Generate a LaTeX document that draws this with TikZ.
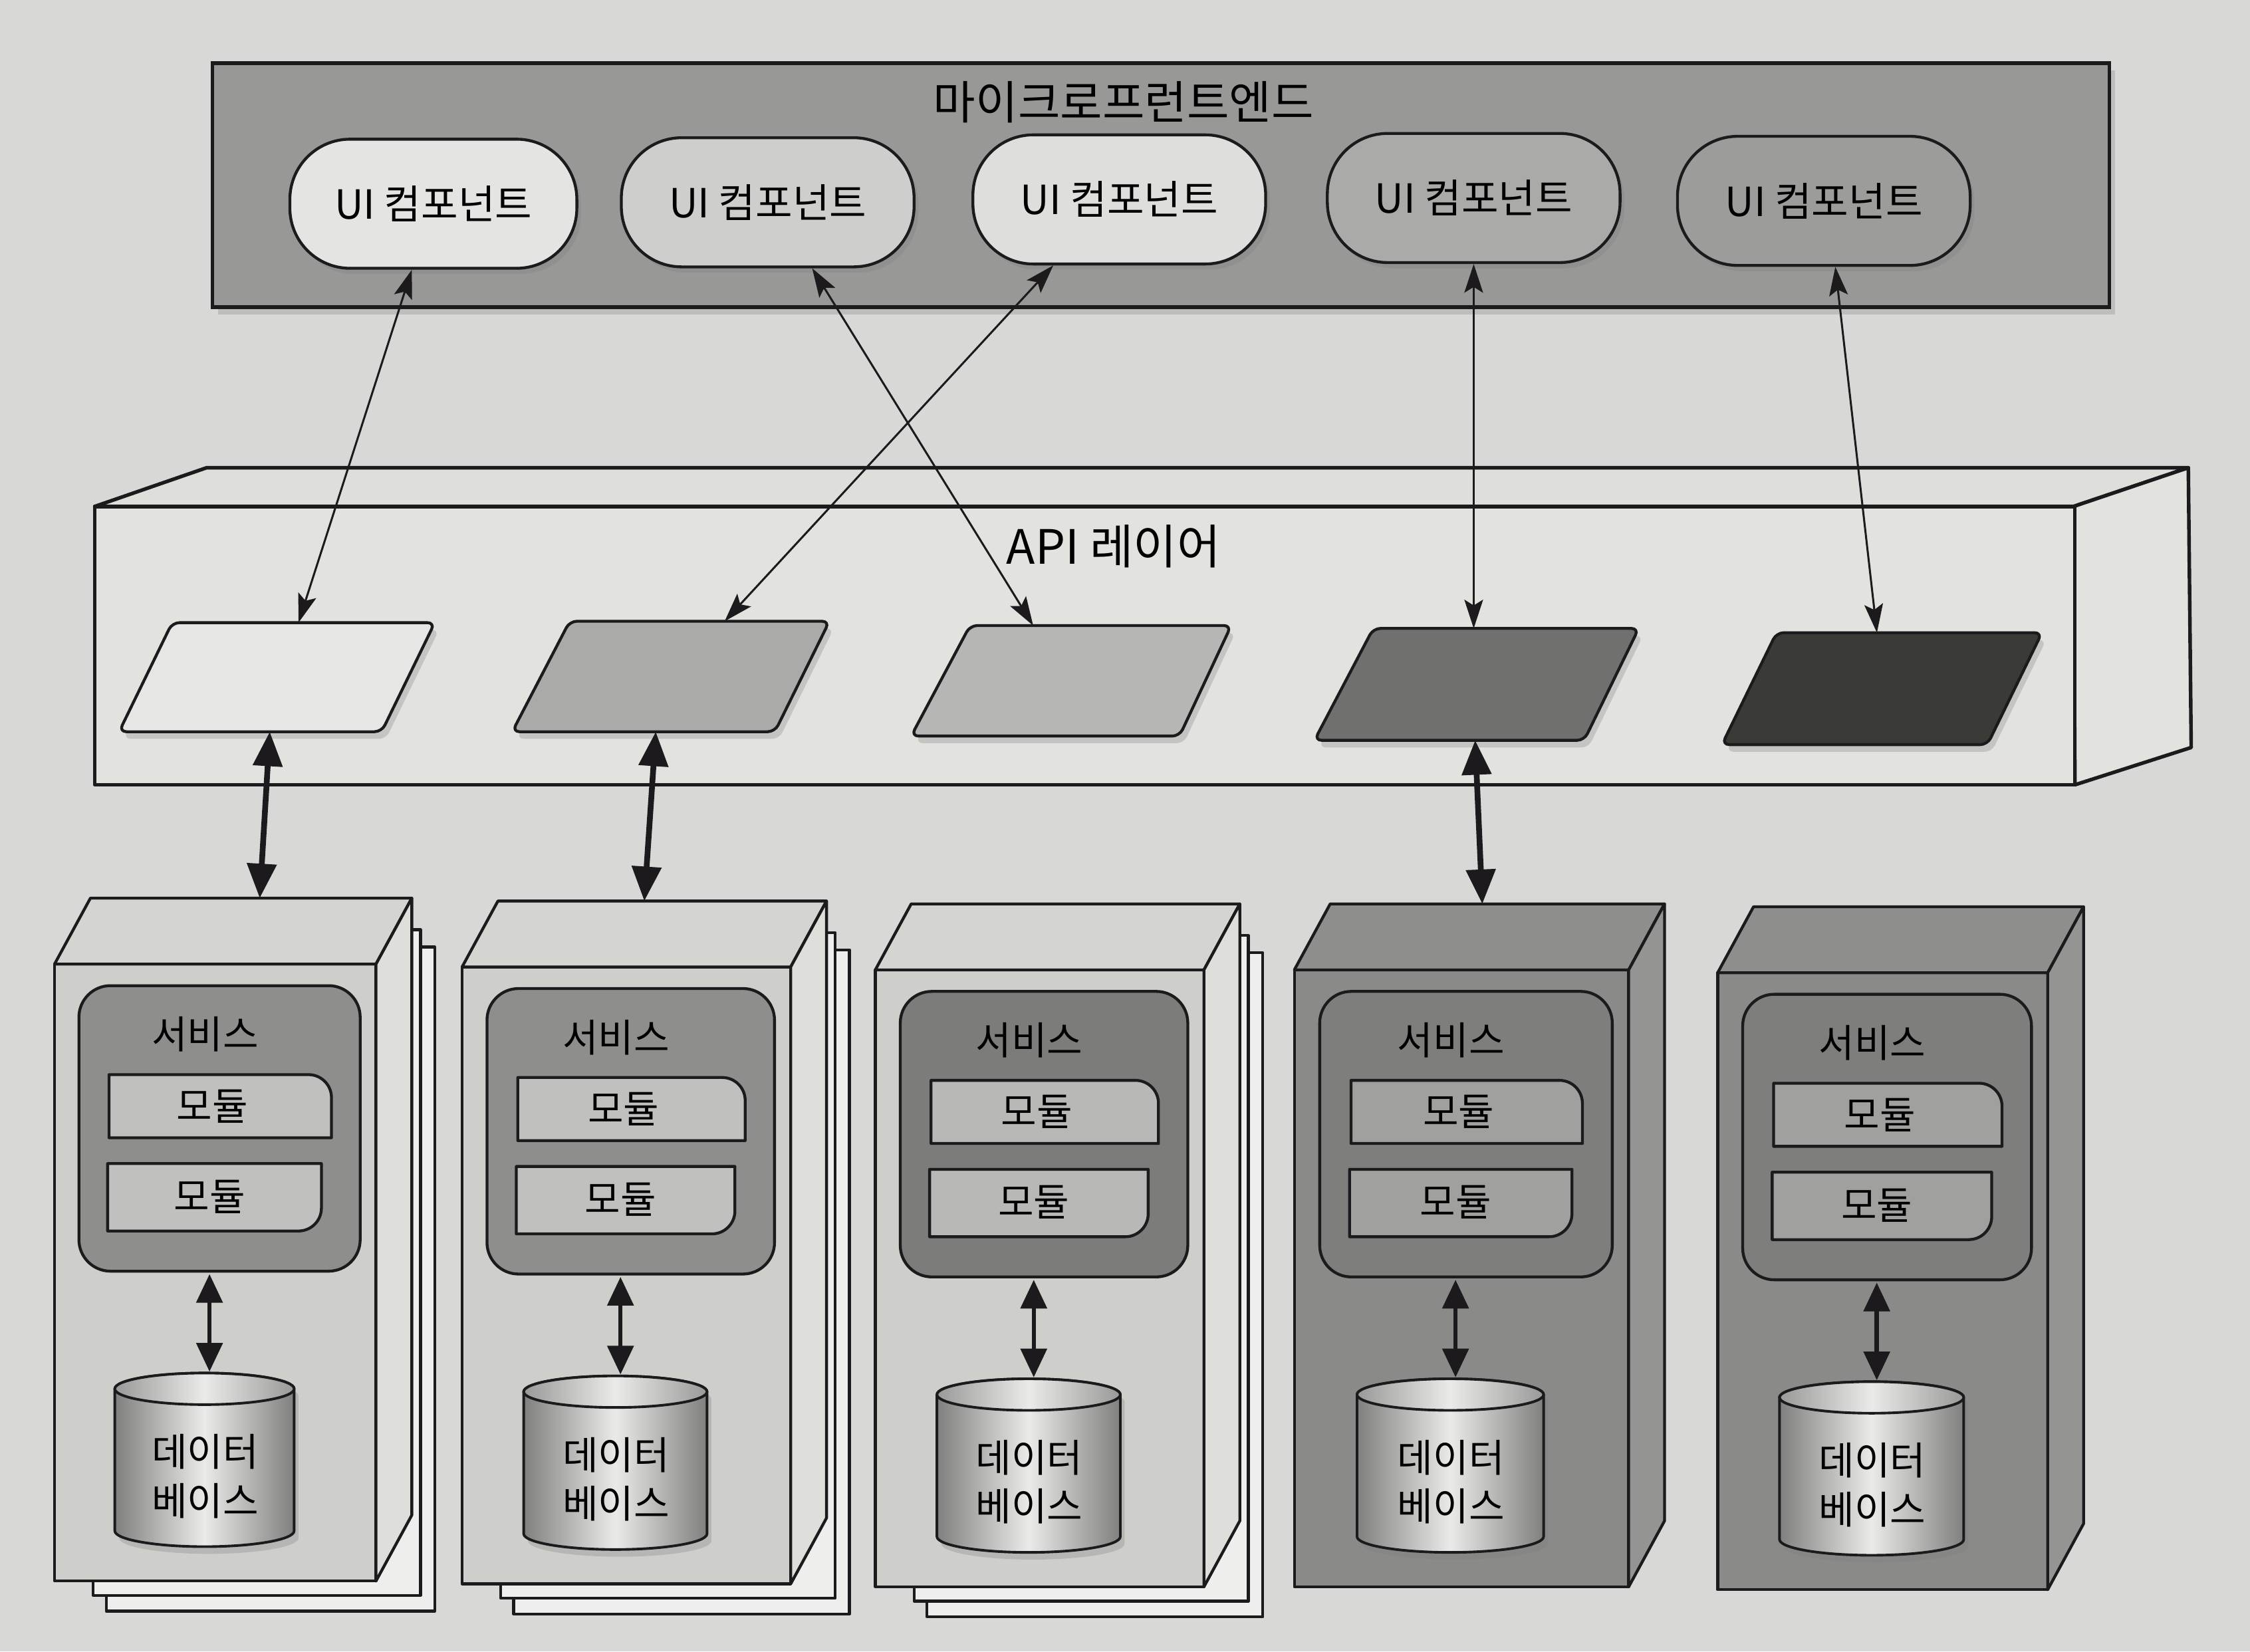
\documentclass[tikz,border=0pt]{standalone}
\usepackage{fontspec}
\setmainfont{Noto Sans CJK KR}
\usetikzlibrary{arrows.meta,shadows,calc}

\definecolor{paper}{RGB}{216,216,214}
\definecolor{mfefill}{RGB}{152,152,150}
\definecolor{uiA}{RGB}{228,228,226}
\definecolor{uiB}{RGB}{206,206,204}
\definecolor{uiC}{RGB}{222,222,220}
\definecolor{uiD}{RGB}{170,170,168}
\definecolor{uiE}{RGB}{156,156,154}
\definecolor{apiface}{RGB}{226,226,223}
\definecolor{apitop}{RGB}{222,222,219}
\definecolor{pA}{RGB}{230,230,228}
\definecolor{pB}{RGB}{170,170,168}
\definecolor{pC}{RGB}{182,182,180}
\definecolor{pD}{RGB}{112,112,110}
\definecolor{pE}{RGB}{58,58,55}
\definecolor{lfront}{RGB}{206,206,203}
\definecolor{ltop}{RGB}{212,212,209}
\definecolor{lside}{RGB}{222,222,219}
\definecolor{dfront}{RGB}{138,138,136}
\definecolor{dtop}{RGB}{142,142,140}
\definecolor{dside}{RGB}{148,148,146}
\definecolor{svcA}{RGB}{142,142,140}
\definecolor{svcC}{RGB}{124,124,122}
\definecolor{svcD}{RGB}{126,126,124}
\definecolor{modL}{RGB}{192,192,190}
\definecolor{modC}{RGB}{184,184,182}
\definecolor{modD}{RGB}{160,160,158}
\definecolor{pagefill}{RGB}{238,238,236}
\definecolor{dbdark}{RGB}{128,128,126}
\definecolor{dblight}{RGB}{234,234,232}
\definecolor{inkc}{RGB}{28,26,28}

\newcommand{\fTitle}{\fontsize{32}{34}\selectfont}
\newcommand{\fApi}{\fontsize{33}{35}\selectfont}
\newcommand{\fUI}{\fontsize{28}{30}\selectfont}
\newcommand{\fSvc}{\fontsize{27}{29}\selectfont}
\newcommand{\fDB}{\fontsize{27}{34}\selectfont}

\tikzset{
  ln/.style={draw=inkc, line width=2pt, line join=round},
  uicomp/.style={ln, rounded corners=42pt, minimum width=204pt, minimum height=90pt, inner sep=0pt, font=\fUI,
    drop shadow={opacity=0.3, shadow xshift=3pt, shadow yshift=-4pt}},
  parabox/.style={ln, rounded corners=5pt, drop shadow={opacity=0.3, shadow xshift=3pt, shadow yshift=-5pt}},
  thinarr/.style={draw=inkc, line width=1.4pt, arrows={Stealth[length=20pt,width=13pt,inset=4pt]-Stealth[length=20pt,width=13pt,inset=4pt]}},
  boldarr/.style={draw=inkc, line width=4pt, arrows={Triangle[length=24pt,width=20pt]-Triangle[length=24pt,width=20pt]}},
  dbarr/.style={draw=inkc, line width=3pt, arrows={Triangle[length=20pt,width=18pt]-Triangle[length=20pt,width=18pt]}},
}

\newcommand{\mspages}[3]{%
  \draw[ln, fill=pagefill] ({#1+36},{#2-12}) rectangle ({#1+#3+41},{#2+451});
  \draw[ln, fill=pagefill] ({#1+27},{#2-24}) rectangle ({#1+#3+31},{#2+440});
}

\newcommand{\msbox}[9]{%
  \pgfmathsetmacro{\bxS}{#4/224}
  \pgfmathsetmacro{\bxR}{#2+#4}
  \draw[ln, fill=#5] (#2,#3) rectangle (\bxR,{#3+430});
  \draw[ln, fill=#6] (#2,#3) -- ({#2+25},{#3-46}) -- ({\bxR+25},{#3-46}) -- (\bxR,#3) -- cycle;
  \draw[ln, fill=#7] (\bxR,#3) -- ({\bxR+25},{#3-46}) -- ({\bxR+25},{#3+384}) -- (\bxR,{#3+430}) -- cycle;
  % service
  \draw[ln, fill=#8, rounded corners=22pt] ({#2+17*\bxS},{#3+15}) rectangle ({#2+213*\bxS},{#3+214});
  \node[font=\fSvc] (#1svc) at ({#2+105*\bxS},{#3+49}) {서비스};
  % modules
  \draw[ln, fill=#9] ({#2+38*\bxS},{#3+77}) -- ({#2+193*\bxS-16},{#3+77}) arc[start angle=-90,end angle=0,radius=16] -- ({#2+193*\bxS},{#3+121}) -- ({#2+38*\bxS},{#3+121}) -- cycle;
  \node[font=\fSvc] (#1mA) at ({#2+110*\bxS},{#3+99}) {모듈};
  \draw[ln, fill=#9] ({#2+37*\bxS},{#3+139}) -- ({#2+186*\bxS},{#3+139}) -- ({#2+186*\bxS},{#3+170}) arc[start angle=0,end angle=90,radius=16] -- ({#2+37*\bxS},{#3+186}) -- cycle;
  \node[font=\fSvc] (#1mB) at ({#2+108*\bxS},{#3+162}) {모듈};
  % database
  \pgfmathsetmacro{\dbL}{#2+42*\bxS}
  \pgfmathsetmacro{\dbRr}{#2+167*\bxS}
  \pgfmathsetmacro{\dbRx}{62.5*\bxS}
  \path[draw=inkc, line width=1.8pt, left color=dbdark, right color=dbdark, middle color=dblight,
        drop shadow={opacity=0.3, shadow xshift=3pt, shadow yshift=-5pt}]
    (\dbL,{#3+296}) -- (\dbL,{#3+395}) arc[start angle=180,end angle=0,x radius=\dbRx,y radius=11]
    -- (\dbRr,{#3+296}) arc[start angle=0,end angle=-180,x radius=\dbRx,y radius=11] -- cycle;
  \path[draw=inkc, line width=1.8pt, left color=dbdark!80!white, right color=dbdark!80!white, middle color=dblight]
    ({#2+104.5*\bxS},{#3+296}) ellipse [x radius=\dbRx, y radius=11];
  \node[font=\fDB, align=center, inner sep=0pt] (#1db) at ({#2+105*\bxS},{#3+357}) {데이터\\베이스};
  \coordinate (#1sb) at ({#2+108*\bxS},{#3+216});
  \coordinate (#1dt) at ({#2+108*\bxS},{#3+284});
  \draw[dbarr] (#1sb) -- (#1dt);
}

\begin{document}
\begin{tikzpicture}[x=1pt,y=-1pt]
\useasboundingbox (0,0) rectangle (1568,1151);
\fill[paper] (0,0) rectangle (1568,1151);

% ---------- micro frontend frame ----------
\node[draw=inkc, line width=2.5pt, fill=mfefill, minimum width=1322pt, minimum height=170pt, inner sep=0pt,
      drop shadow={opacity=0.3, shadow xshift=4pt, shadow yshift=-5pt}] (mfe) at (809,129) {};
\node[font=\fTitle] (mfet) at (783,71) {마이크로프런트엔드};

\node[uicomp, fill=uiA, minimum width=200pt] (ui1) at (302,142) {UI 컴포넌트};
\node[uicomp, fill=uiB] (ui2) at (535,141) {UI 컴포넌트};
\node[uicomp, fill=uiC] (ui3) at (780,139) {UI 컴포넌트};
\node[uicomp, fill=uiD] (ui4) at (1027,138) {UI 컴포넌트};
\node[uicomp, fill=uiE] (ui5) at (1271,140) {UI 컴포넌트};

% ---------- API layer ----------
\draw[ln, line width=2.5pt, fill=apitop] (66,353) -- (144,326) -- (1525,326) -- (1445,353) -- cycle;
\draw[ln, line width=2.5pt, fill=apiface] (1445,353) -- (1525,326) -- (1527,521) -- (1446,547) -- cycle;
\draw[ln, line width=2.5pt, fill=apiface] (66,353) rectangle (1446,547);
\node[font=\fApi] (apit) at (776,381) {API 레이어};

\draw[parabox, fill=pA] (120,434) -- (303,434) -- (266,510) -- (83,510) -- cycle;
\draw[parabox, fill=pB] (397,433) -- (578,433) -- (540,510) -- (357,510) -- cycle;
\draw[parabox, fill=pC] (676,436) -- (858,436) -- (822,513) -- (635,513) -- cycle;
\draw[parabox, fill=pD] (957,438) -- (1142,438) -- (1104,516) -- (916,516) -- cycle;
\draw[parabox, fill=pE] (1238,441) -- (1423,441) -- (1385,519) -- (1200,519) -- cycle;

\coordinate (p1t) at (208,434); \coordinate (p1b) at (188,510);
\coordinate (p2t) at (505,433); \coordinate (p2b) at (457,510);
\coordinate (p3t) at (720,436);
\coordinate (p4t) at (1027,438); \coordinate (p4b) at (1028,516);
\coordinate (p5t) at (1308,441);

% ---------- service boxes ----------
\mspages{38}{672}{224}
\msbox{sA}{38}{672}{224}{lfront}{ltop}{lside}{svcA}{modL}
\mspages{322}{674}{229}
\msbox{sB}{322}{674}{229}{lfront}{ltop}{lside}{svcA}{modL}
\mspages{610}{676}{229}
\msbox{sC}{610}{676}{229}{lfront}{ltop}{lside}{svcC}{modC}
\msbox{sD}{902}{676}{233}{dfront}{dtop}{dside}{svcD}{modD}
\msbox{sE}{1197}{678}{230}{dfront}{dtop}{dside}{svcD}{modD}

\coordinate (b1t) at (181,626);
\coordinate (b2t) at (449,628);
\coordinate (b4t) at (1033,630);

% ---------- connectors ----------
\coordinate (u1b) at ($(ui1.south)+(-15,0)$);
\coordinate (u2b) at ($(ui2.south)+(31,0)$);
\coordinate (u3b) at ($(ui3.south)+(-46,0)$);
\coordinate (u4b) at ($(ui4.south)+(0,0)$);
\coordinate (u5b) at ($(ui5.south)+(8,0)$);

\draw[thinarr] (u1b) -- (p1t);
\draw[thinarr] (u2b) -- (p3t);
\draw[thinarr] (u3b) -- (p2t);
\draw[thinarr] (u4b) -- (p4t);
\draw[thinarr] (u5b) -- (p5t);

\draw[boldarr] (p1b) -- (b1t);
\draw[boldarr] (p2b) -- (b2t);
\draw[boldarr] (p4b) -- (b4t);
\end{tikzpicture}
\end{document}
